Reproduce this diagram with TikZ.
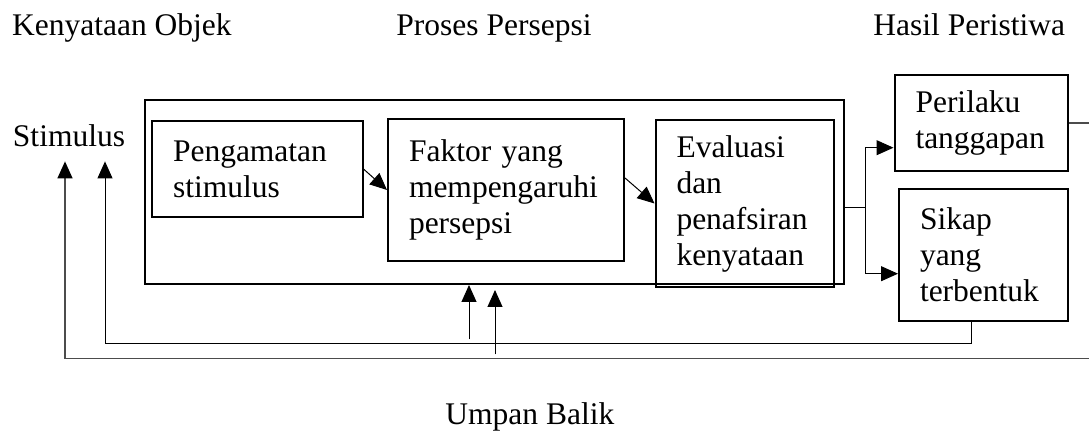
\documentclass[tikz,border=0pt]{standalone}
\usepackage{fontspec}
\setmainfont{Liberation Serif}
\usepackage{tikz}
\usetikzlibrary{calc, positioning, arrows.meta}

\begin{document}
\begin{tikzpicture}
	[x=0.5pt, y=-0.5pt,
	every node/.style={font=\fontsize{15.75}{18}\selectfont},
	kotak/.style={draw, line width=1pt, anchor=north west, align=left, inner xsep=10.5pt, inner ysep=0pt},
	judul/.style={anchor=base west, inner sep=0pt},
	panah/.style={-{Triangle[length=8.5pt, width=7.5pt, color=black]}, line width=0.5pt},
	garis/.style={line width=0.5pt}]
	\useasboundingbox (0,0) rectangle (1089,432);
	\clip (0,0) rectangle (1089,432);

	% nodes %
	\node[judul] (objek) at (11.7,36) {Kenyataan Objek};
	\node[judul] (persepsi) at (396,36) {Proses Persepsi};
	\node[judul] (hasil) at (873,36) {Hasil Peristiwa};
	\node[judul] (umpan) at (445,425) {Umpan Balik};
	\node[anchor=base, inner sep=7pt] (stimulus) at (69,146.7) {Stimulus};

	\node[kotak, minimum width=349.5pt, minimum height=92pt] (proses) at (144,99) {};
	\node[kotak, text width=84.25pt, minimum height=48pt] (pengamatan) at (151,120) {Pengamatan\\stimulus};
	\node[kotak, text width=97pt, minimum height=71pt] (faktor) at (387,118) {Faktor yang\\mempengaruhi\\persepsi};
	\node[kotak, text width=68pt, minimum height=83.5pt] (evaluasi) at (654.5,119) {Evaluasi\\dan\\penafsiran\\kenyataan};
	\node[kotak, text width=65.75pt, minimum height=48pt] (perilaku) at (893.5,74) {Perilaku\\tanggapan};
	\node[kotak, text width=63.5pt, minimum height=66pt] (sikap) at (898,188) {Sikap\\yang\\terbentuk};

	\coordinate (cabang) at (865,207.3);
	\coordinate (balik1) at (105,343.5);
	\coordinate (kanan) at (1095,358.7);
	\coordinate (balik2) at (65,358.7);
	\coordinate (u1) at (469,339.3);
	\coordinate (u2) at (495,354.3);

	% edges %
	\draw[panah] (pengamatan.east) -- (faktor.west);
	\draw[panah] ([yshift=6pt]faktor.east) -- (evaluasi.west);
	\draw[garis] (proses.east |- cabang) -- (cabang);
	\draw[panah] (cabang) |- ([yshift=-12.35pt]perilaku.west);
	\draw[panah] (cabang) |- ([yshift=-9.35pt]sikap.west);
	\draw[panah] ([xshift=-6.25pt]sikap.south) |- (balik1) -- (stimulus.south -| balik1);
	\draw[panah, draw=black!70, line width=0.75pt] (perilaku.east) -| (kanan) -- (balik2) -- (stimulus.south -| balik2);
	\draw[panah] (u1) -- (u1 |- proses.south);
	\draw[panah] (u2) -- ([yshift=-2.5pt]u2 |- proses.south);
\end{tikzpicture}
\end{document}
